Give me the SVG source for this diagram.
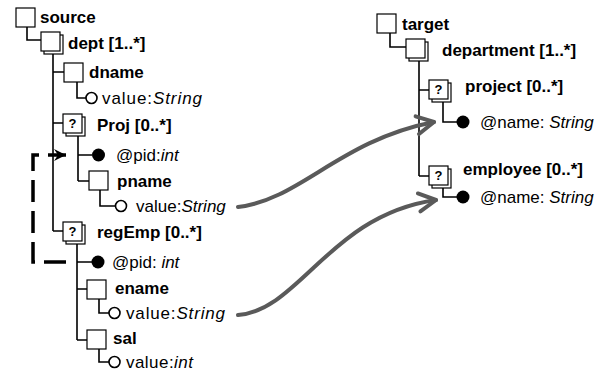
<svg xmlns="http://www.w3.org/2000/svg" width="605" height="373" viewBox="0 0 605 373">
  <defs>
    <style>
      .box { fill: #fff; stroke: #000; stroke-width: 1.2; }
      .tree { fill: none; stroke: #000; stroke-width: 1.6; }
      .leaf { fill: #fff; stroke: #000; stroke-width: 1.6; }
      .attr { fill: #000; }
      .lbl { font-family: "Liberation Sans", Arial, sans-serif; font-size: 17px; font-weight: bold; fill: #000; }
      .val { font-family: "Liberation Sans", Arial, sans-serif; font-size: 17px; fill: #000; }
      .ty { font-style: italic; }
      .q { font-family: "Liberation Sans", Arial, sans-serif; font-size: 13px; font-weight: bold; text-anchor: middle; fill: #000; }
      .map { fill: none; stroke: #5a5a5a; stroke-width: 4; stroke-linecap: round; }
      .ref { fill: none; stroke: #000; stroke-width: 3.5; stroke-dasharray: 22 9; }
    </style>
    <marker id="openHead" markerUnits="userSpaceOnUse" viewBox="-22 -12 26 24" markerWidth="26" markerHeight="24" refX="0" refY="0" orient="auto">
      <path d="M-17,-9 L0,0 L-17,9" fill="none" stroke="#5a5a5a" stroke-width="4" stroke-linecap="round" stroke-linejoin="round"/>
    </marker>
    <marker id="solidHead" markerUnits="userSpaceOnUse" viewBox="-14 -8 16 16" markerWidth="16" markerHeight="16" refX="0" refY="0" orient="auto">
      <path d="M-12,-6 L0,0 L-12,6 L-8,0 Z" fill="#000"/>
    </marker>
  </defs>

  <rect width="605" height="373" fill="#fff"/>

  <!-- source schema -->
  <g id="source">
    <rect class="box" x="16" y="8" width="19" height="19"/>
    <text class="lbl" x="40" y="23">source</text>
    <path class="tree" d="M27,27 V40 H41"/>
  </g>
  <g id="dept">
    <rect class="box" x="44" y="35" width="19" height="19"/>
    <rect class="box" x="41" y="32" width="19" height="19"/>
    <text class="lbl" x="68" y="49">dept [1..*]</text>
    <path class="tree" d="M53,54 V231 M53,72 H64 M53,123 H63 M53,231 H63"/>
  </g>
  <g id="dname">
    <rect class="box" x="64" y="63" width="19" height="19"/>
    <text class="lbl" x="89" y="78">dname</text>
    <path class="tree" d="M77,82 V98 H86"/>
    <circle class="leaf" cx="91.5" cy="98" r="5.5"/>
    <text class="val" x="102" y="104" textLength="100">value:<tspan class="ty">String</tspan></text>
  </g>
  <g id="Proj">
    <rect class="box" x="66" y="117" width="19" height="19"/>
    <rect class="box" x="63" y="114" width="19" height="19"/>
    <text class="q" x="72.5" y="128">?</text>
    <text class="lbl" x="97" y="131">Proj [0..*]</text>
    <path class="tree" d="M78,136 V181 M78,155 H92 M78,181 H89"/>
    <circle class="attr" cx="98.5" cy="155" r="6.5"/>
    <text class="val" x="116" y="161">@pid:<tspan class="ty">int</tspan></text>
  </g>
  <g id="pname">
    <rect class="box" x="89" y="171" width="19" height="19"/>
    <text class="lbl" x="117" y="187">pname</text>
    <path class="tree" d="M100,190 V206 H115"/>
    <circle class="leaf" cx="121" cy="206" r="5.5"/>
    <text class="val" x="136" y="212">value:<tspan class="ty">String</tspan></text>
  </g>
  <g id="regEmp">
    <rect class="box" x="66" y="225" width="19" height="19"/>
    <rect class="box" x="63" y="222" width="19" height="19"/>
    <text class="q" x="72.5" y="236">?</text>
    <text class="lbl" x="97" y="238">regEmp [0..*]</text>
    <path class="tree" d="M77,244 V340 M77,262 H92 M77,289 H87 M77,340 H87"/>
    <circle class="attr" cx="98" cy="262" r="6.5"/>
    <text class="val" x="112" y="268">@pid: <tspan class="ty">int</tspan></text>
  </g>
  <g id="ename">
    <rect class="box" x="87" y="280" width="19" height="19"/>
    <text class="lbl" x="115" y="294">ename</text>
    <path class="tree" d="M99,299 V313 H109"/>
    <circle class="leaf" cx="114.5" cy="313" r="5.5"/>
    <text class="val" x="126" y="319" textLength="99">value:<tspan class="ty">String</tspan></text>
  </g>
  <g id="sal">
    <rect class="box" x="87" y="330" width="19" height="19"/>
    <text class="lbl" x="113" y="344">sal</text>
    <path class="tree" d="M99,349 V362 H109"/>
    <circle class="leaf" cx="114.5" cy="362" r="5.5"/>
    <text class="val" x="126" y="368" textLength="67">value:<tspan class="ty">int</tspan></text>
  </g>

  <!-- target schema -->
  <g id="target">
    <rect class="box" x="377" y="14" width="19" height="19"/>
    <text class="lbl" x="402" y="30">target</text>
    <path class="tree" d="M390,33 V47 H406"/>
  </g>
  <g id="department">
    <rect class="box" x="409" y="42" width="19" height="19"/>
    <rect class="box" x="406" y="39" width="19" height="19"/>
    <text class="lbl" x="442" y="56">department [1..*]</text>
    <path class="tree" d="M419,61 V176 M419,90 H429 M419,176 H429"/>
  </g>
  <g id="project">
    <rect class="box" x="432" y="83" width="19" height="19"/>
    <rect class="box" x="429" y="80" width="19" height="19"/>
    <text class="q" x="438.5" y="94">?</text>
    <text class="lbl" x="465" y="92">project [0..*]</text>
    <path class="tree" d="M443,102 V122 H457"/>
    <circle class="attr" cx="463" cy="122" r="6.5"/>
    <text class="val" x="480" y="128">@name: <tspan class="ty">String</tspan></text>
  </g>
  <g id="employee">
    <rect class="box" x="432" y="169" width="19" height="19"/>
    <rect class="box" x="429" y="166" width="19" height="19"/>
    <text class="q" x="438.5" y="180">?</text>
    <text class="lbl" x="463" y="175">employee [0..*]</text>
    <path class="tree" d="M443,188 V197 H457"/>
    <circle class="attr" cx="463" cy="197" r="6.5"/>
    <text class="val" x="480" y="203">@name: <tspan class="ty">String</tspan></text>
  </g>

  <!-- connectors -->
  <g id="connectors">
    <path class="ref" d="M66,262 H33 V155 H66" marker-end="url(#solidHead)"/>
    <path class="map" d="M238,207 C300,200 340,140 434,122" marker-end="url(#openHead)"/>
    <path class="map" d="M238,315 C300,310 330,215 436,200" marker-end="url(#openHead)"/>
  </g>
</svg>
